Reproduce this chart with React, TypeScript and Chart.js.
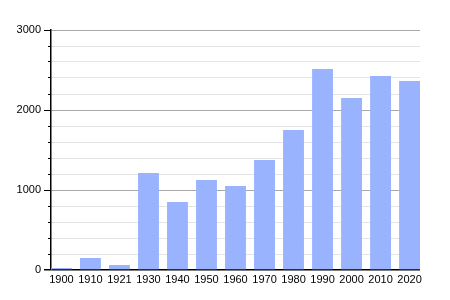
import React, { useEffect, useRef } from "react";
import { Chart, registerables } from "chart.js";

Chart.register(...registerables);

const categories = ["1900", "1910", "1921", "1930", "1940", "1950", "1960", "1970", "1980", "1990", "2000", "2010", "2020"];
const population = [25, 150, 62, 1212, 850, 1125, 1050, 1375, 1750, 2512, 2150, 2425, 2362];
const yMin = 0;
const yMax = 3000;
const yStep = 200;
const yLabelEvery = 1000;
const BAR_PCT = 0.72;

// Make first bar touch the y axis and last bar touch the right edge of the plot.
const flushBars = {
  id: "flushBars",
  afterLayout(chart: any) {
    const x = chart.scales.x;
    const area = chart.chartArea;
    const w = (area.right - area.left) / (categories.length - 1 + BAR_PCT);
    const pad = (w * (1 - BAR_PCT)) / 2;
    x.left = area.left - pad;
    x.right = area.right + pad;
    x.width = x.right - x.left;
    x.configure();
  },
};

export default function App() {
  const ref = useRef<HTMLCanvasElement | null>(null);
  useEffect(() => {
    if (!ref.current) return;
    const chart = new Chart(ref.current, {
      type: "bar",
      data: {
        labels: categories,
        datasets: [
          {
            data: population,
            backgroundColor: "#99b3ff",
            borderWidth: 0,
            categoryPercentage: 1,
            barPercentage: BAR_PCT,
          },
        ],
      },
      options: {
        animation: false,
        responsive: false,
        maintainAspectRatio: false,
        layout: { padding: { top: 30, right: 30, left: 0, bottom: 0 } },
        plugins: { legend: { display: false }, tooltip: { enabled: false } },
        scales: {
          x: {
            grid: { display: false, drawTicks: false },
            border: { display: false },
            ticks: { color: "#000", font: { family: "Liberation Sans, Arial, sans-serif", size: 11 }, padding: 3, maxRotation: 0, autoSkip: false },
            afterFit: (s: any) => { s.height = 30; },
          },
          y: {
            min: yMin,
            max: yMax,
            border: { color: "#000", width: 1.5 },
            grid: {
              color: (ctx: any) => {
                const v = ctx.tick ? ctx.tick.value : 1;
                if (v === 0) return "#000";
                return v % yLabelEvery === 0 ? "#a8a8a8" : "#e4e4e4";
              },
              lineWidth: (ctx: any) => (ctx.tick && ctx.tick.value === 0 ? 1.5 : 1),
              tickColor: "#000",
              tickLength: 7,
              tickBorderDash: (ctx: any) => (ctx.tick && ctx.tick.value % yLabelEvery === 0 ? [] : [0, 4, 3, 100]),
            },
            ticks: {
              stepSize: yStep,
              autoSkip: false,
              color: "#000",
              font: { family: "Liberation Sans, Arial, sans-serif", size: 11 },
              padding: 3,
              callback: (v: any) => (Number(v) % yLabelEvery === 0 ? String(v) : ""),
            },
            afterFit: (s: any) => { s.width = 51; },
          },
        },
      },
      plugins: [flushBars],
    });
    return () => chart.destroy();
  }, []);
  return (
    <div style={{ position: "fixed", left: 0, top: 0, width: 450, height: 300, background: "#fff" }}>
      <canvas ref={ref} width={450} height={300} style={{ width: 450, height: 300 }} />
    </div>
  );
}
